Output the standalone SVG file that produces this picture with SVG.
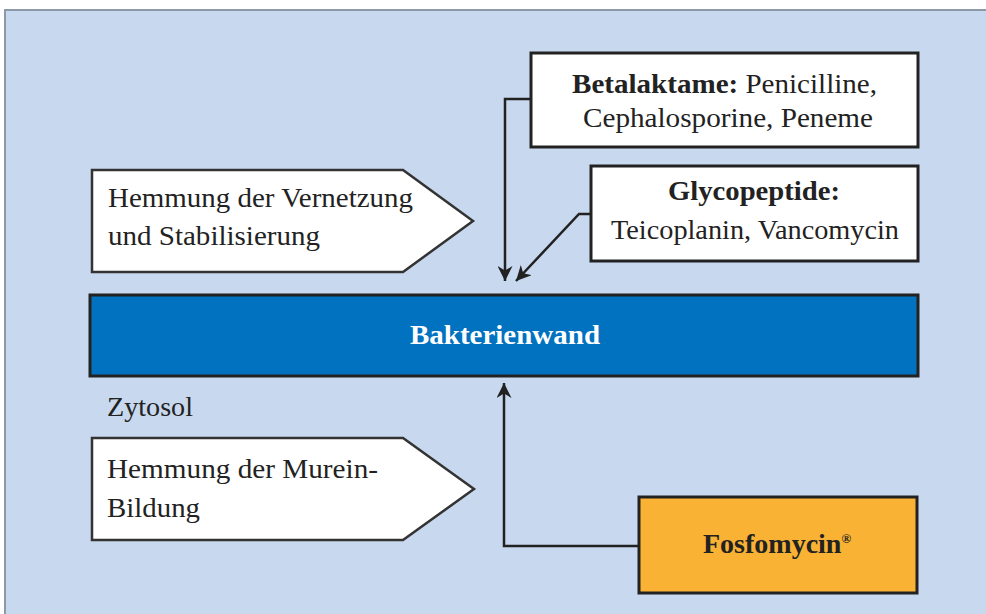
<svg xmlns="http://www.w3.org/2000/svg" width="986" height="614" viewBox="0 0 986 614">
<defs>
<style>
.t{font-family:"Liberation Serif","Times New Roman",serif;font-size:28px;fill:#222}
.b{font-weight:bold}
.box{fill:#fff;stroke:#222;stroke-width:3}
.pent{fill:#fff;stroke:#333;stroke-width:2.5}
.con{fill:none;stroke:#222;stroke-width:2.5}
</style>
<marker id="ah" viewBox="0 0 10 10" refX="10" refY="5" markerWidth="6" markerHeight="6" markerUnits="strokeWidth" orient="auto">
<path d="M0,0 L10,5 L0,10 L3,5 Z" fill="#222"/>
</marker>
</defs>
<rect x="0" y="0" width="986" height="614" fill="#fff"/>
<rect x="5" y="10" width="990" height="620" fill="#c8d8ee" stroke="#8d98a8" stroke-width="2"/>

<g id="connectors">
<path class="con" d="M531,99 H505 V281" marker-end="url(#ah)"/>
<path class="con" d="M590,214 H579 L516,281" marker-end="url(#ah)"/>
<path class="con" d="M638,546 H504 V383" marker-end="url(#ah)"/>
</g>

<g id="betalaktame">
<rect class="box" x="531" y="53" width="387" height="94"/>
<text class="t" x="724.500" y="93" text-anchor="middle" textLength="305" lengthAdjust="spacingAndGlyphs"><tspan class="b">Betalaktame:</tspan> Penicilline,</text>
<text class="t" x="728" y="127" text-anchor="middle" textLength="290" lengthAdjust="spacingAndGlyphs">Cephalosporine, Peneme</text>
</g>

<g id="glycopeptide">
<rect class="box" x="591" y="166" width="327" height="95"/>
<text class="t b" x="754" y="200" text-anchor="middle" textLength="172" lengthAdjust="spacingAndGlyphs">Glycopeptide:</text>
<text class="t" x="755" y="239" text-anchor="middle" textLength="288" lengthAdjust="spacingAndGlyphs">Teicoplanin, Vancomycin</text>
</g>

<g id="vernetzung">
<path class="pent" d="M92,170 H403 L473,221 L403,272 H92 Z"/>
<text class="t" x="108" y="207" textLength="305" lengthAdjust="spacingAndGlyphs">Hemmung der Vernetzung</text>
<text class="t" x="108" y="245" textLength="212" lengthAdjust="spacingAndGlyphs">und Stabilisierung</text>
</g>

<g id="bakterienwand">
<rect x="90" y="295" width="828" height="81" fill="#0072bf" stroke="#222" stroke-width="3"/>
<text class="t b" x="505" y="344" text-anchor="middle" style="fill:#fff" textLength="190" lengthAdjust="spacingAndGlyphs">Bakterienwand</text>
</g>

<g id="zytosol">
<text class="t" x="107" y="416" textLength="86" lengthAdjust="spacingAndGlyphs">Zytosol</text>
</g>

<g id="murein">
<path class="pent" d="M92,438 H403 L474,489 L403,540 H92 Z"/>
<text class="t" x="107" y="478" textLength="271" lengthAdjust="spacingAndGlyphs">Hemmung der Murein-</text>
<text class="t" x="107" y="517" textLength="93" lengthAdjust="spacingAndGlyphs">Bildung</text>
</g>

<g id="fosfomycin">
<rect x="639" y="497" width="278" height="96" fill="#f9b233" stroke="#222" stroke-width="3"/>
<text class="t b" x="703" y="553">Fosfomycin<tspan font-size="13" dy="-10">®</tspan></text>
</g>
</svg>
